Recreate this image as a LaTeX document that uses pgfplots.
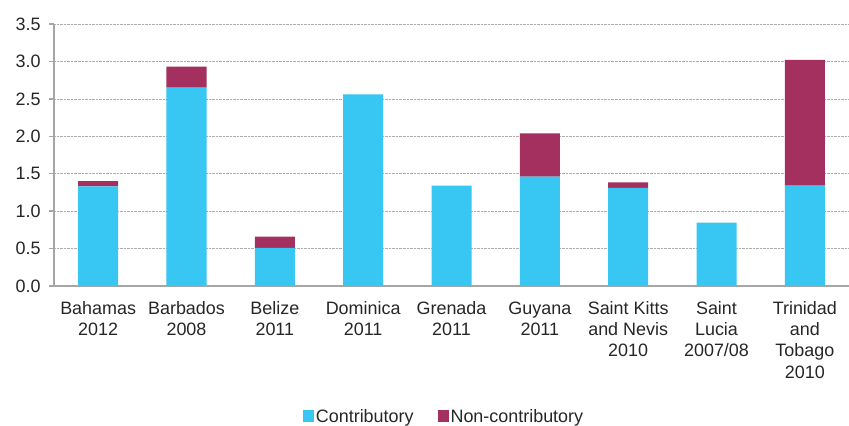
\documentclass[border=0pt]{standalone}
\usepackage{pgfplots}
\usepackage{pgfplotstable}
\pgfplotsset{compat=1.18}
\usepackage{fontspec}
\setmainfont{Liberation Sans}
\definecolor{contr}{HTML}{38C6F2}
\definecolor{noncontr}{HTML}{A3305E}
\definecolor{axgray}{HTML}{A6A6A6}
\definecolor{txt}{HTML}{262626}
\pgfplotstableread{
x c n
0 1.33 0.07
1 2.65 0.28
2 0.51 0.15
3 2.56 0
4 1.34 0
5 1.46 0.58
6 1.31 0.075
7 0.846 0
8 1.34 1.68
}\data
\begin{document}
\begin{tikzpicture}
\begin{axis}[
  scale only axis, width=795bp, height=262bp,
  ybar stacked, bar width=40bp,
  xmin=-0.5, xmax=8.5, ymin=0, ymax=3.5,
  axis x line=bottom, axis y line=left,
  axis line style={axgray, line width=1.6bp, -},
  tick align=outside,
  major tick length=5bp,
  tick style={axgray, line width=1.3bp},
  ytick={0,0.5,...,3.5},
  yticklabel style={font=\fontsize{18}{21}\selectfont, text=txt, xshift=-5bp},
  y tick label style={/pgf/number format/.cd, fixed, fixed zerofill, precision=1, assume math mode=true},
  ymajorgrids, major grid style={densely dotted, gray!65, line width=0.6bp},
  xtick={0,...,8},
  major x tick style={draw=none},
  xticklabels={{Bahamas\\2012},{Barbados\\2008},{Belize\\2011},{Dominica\\2011},{Grenada\\2011},{Guyana\\2011},{Saint Kitts\\and Nevis\\2010},{Saint\\Lucia\\2007/08},{Trinidad\\and\\Tobago\\2010}},
  xticklabel style={align=center, font=\fontsize{18}{21.3}\selectfont, text=txt, yshift=-7bp},
  extra x ticks={-0.5,0.5,...,8.5},
  extra x tick labels={},
  extra x tick style={grid=none, major tick length=6bp, tick style={axgray, line width=1.3bp}},
  legend style={at={(axis description cs:0.4906,-0.498)}, anchor=center, draw=none, font=\fontsize{18}{21}\selectfont, text=txt, legend columns=2, /tikz/every even column/.append style={column sep=22bp}},
  legend image code/.code={\fill[#1] (0bp,-6bp) rectangle (11bp,6bp);},
  legend cell align=left,
]
\addplot[fill=contr, draw=none] table[x=x, y=c] {\data};
\addplot[fill=noncontr, draw=none] table[x=x, y=n] {\data};
\legend{Contributory, Non-contributory}
\end{axis}
\pgfresetboundingbox
\path ([shift={(-54bp,-140bp)}]current axis.south west) rectangle ([shift={(0bp,24bp)}]current axis.north east);
\end{tikzpicture}
\end{document}
